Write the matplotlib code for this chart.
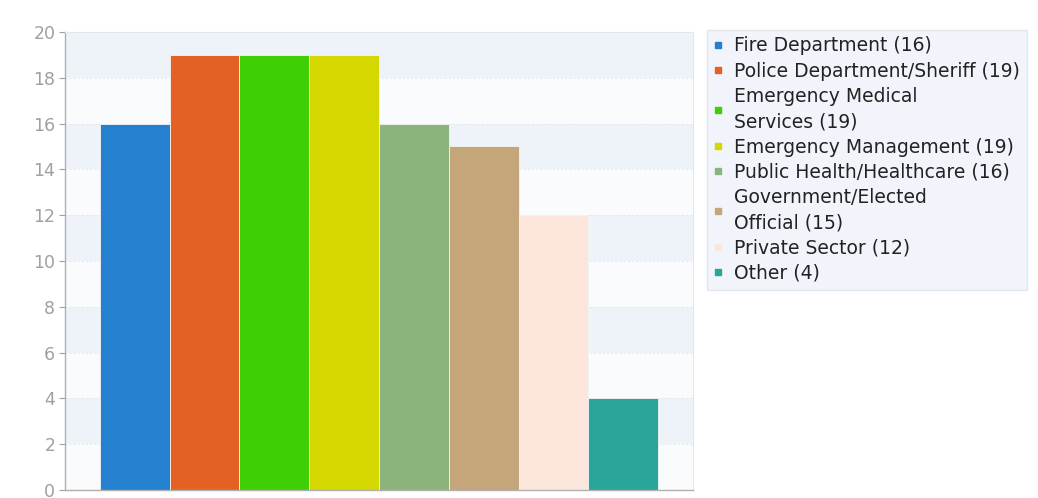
import matplotlib.pyplot as plt
from matplotlib.lines import Line2D

# respondent counts per discipline
categories = ['Fire Department', 'Police Department/Sheriff', 'Emergency Medical\nServices',
              'Emergency Management', 'Public Health/Healthcare', 'Government/Elected\nOfficial',
              'Private Sector', 'Other']
counts = [16, 19, 19, 19, 16, 15, 12, 4]
colors = ['#2680d0', '#e46125', '#3ecf04', '#d4d800', '#8ab47c', '#c4a67a', '#fce6dc', '#2aa59a']
yticks = [0, 2, 4, 6, 8, 10, 12, 14, 16, 18, 20]

fig = plt.figure(figsize=(10.38, 4.98), dpi=100)
ax = fig.add_axes([0.0626, 0.016, 0.605, 0.92])
ax.set_facecolor('#fafbfd')

# alternating horizontal bands
for lo in range(2, 20, 4):
    ax.axhspan(lo, lo + 2, color='#eef3fa', zorder=0, lw=0)
for t in yticks[1:-1]:
    ax.axhline(t, color='#dde3ea', lw=0.6, ls=(0, (2, 3)), zorder=0.5)

xs = range(len(counts))
ax.bar(xs, counts, width=1.0, color=colors, edgecolor='#f4f4f4', linewidth=0.6, zorder=2)

ax.set_xlim(-1, 8)
ax.set_ylim(0, 20)
ax.set_yticks(yticks)
ax.set_xticks([])
ax.tick_params(axis='y', colors='#a0a0a0', labelsize=12.5, length=4, width=0.8, pad=3)
for s in ['top', 'right']:
    ax.spines[s].set_color('#e6e6e6')
for s in ['left', 'bottom']:
    ax.spines[s].set_color('#b0b0b0')
    ax.spines[s].set_linewidth(1.0)

handles = [Line2D([], [], marker='s', ls='', markersize=4, color=c) for c in colors]
labels = [f'{c} ({n})' for c, n in zip(categories, counts)]
leg = fig.legend(handles, labels, loc='upper left', bbox_to_anchor=(0.681, 0.94),
                 frameon=True, fontsize=13.5, handlelength=0.5, handletextpad=0.6,
                 labelspacing=0.33, borderpad=0.35, borderaxespad=0, fancybox=False)
leg.get_frame().set_facecolor('#eef3fa')
leg.get_frame().set_edgecolor('#dde3ea')
for txt in leg.get_texts():
    txt.set_color('#222222')
    txt.set_linespacing(1.44)

fig.savefig('out.png', dpi=100)
